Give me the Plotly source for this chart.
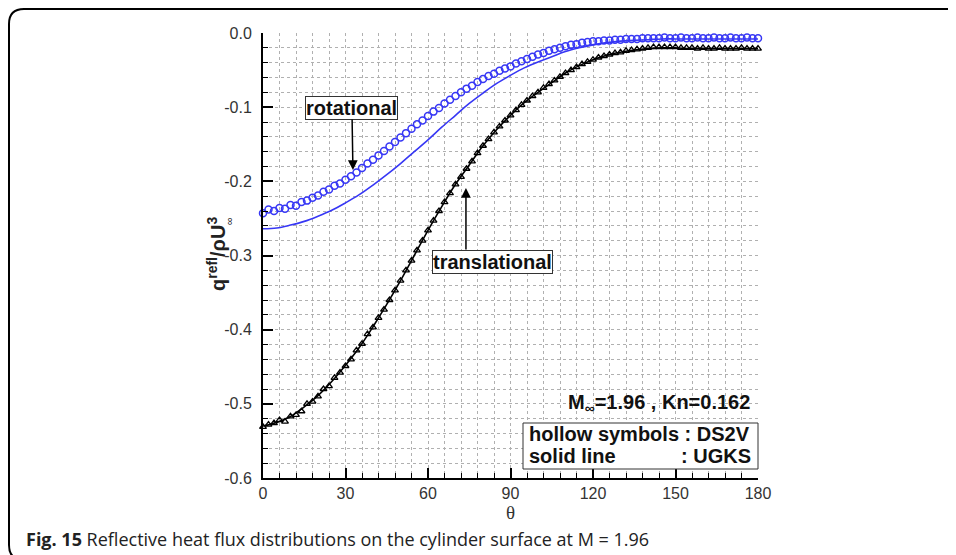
import plotly.graph_objects as go

# ---------------- data ----------------
theta_ds2v = list(range(0, 181, 2))
rot_ds2v = [-0.243, -0.238, -0.240, -0.236, -0.237, -0.232, -0.233, -0.228, -0.226, -0.222,
            -0.219, -0.214, -0.211, -0.206, -0.203, -0.198, -0.193, -0.188, -0.182, -0.176,
            -0.171, -0.165, -0.159, -0.153, -0.147, -0.141, -0.135, -0.129, -0.123, -0.118,
            -0.112, -0.106, -0.101, -0.095, -0.090, -0.085, -0.080, -0.075, -0.071, -0.066,
            -0.062, -0.058, -0.055, -0.051, -0.048, -0.045, -0.041, -0.038, -0.035, -0.032,
            -0.029, -0.027, -0.024, -0.022, -0.020, -0.018, -0.016, -0.015, -0.013, -0.012,
            -0.011, -0.011, -0.010, -0.010, -0.009, -0.009, -0.008, -0.008, -0.008, -0.007,
            -0.007, -0.007, -0.007, -0.006, -0.007, -0.007, -0.006, -0.007, -0.007, -0.006,
            -0.007, -0.007, -0.006, -0.007, -0.007, -0.006, -0.007, -0.007, -0.006, -0.007,
            -0.007]
trans_ds2v = [-0.531, -0.528, -0.526, -0.522, -0.524, -0.517, -0.515, -0.510, -0.500, -0.497,
              -0.490, -0.480, -0.476, -0.465, -0.458, -0.449, -0.440, -0.428, -0.419, -0.406,
              -0.397, -0.384, -0.373, -0.360, -0.347, -0.334, -0.320, -0.307, -0.293, -0.280,
              -0.266, -0.253, -0.240, -0.228, -0.216, -0.204, -0.194, -0.183, -0.173, -0.162,
              -0.152, -0.143, -0.134, -0.126, -0.118, -0.111, -0.104, -0.097, -0.091, -0.085,
              -0.080, -0.074, -0.069, -0.064, -0.059, -0.054, -0.050, -0.046, -0.042, -0.039,
              -0.036, -0.033, -0.031, -0.029, -0.027, -0.026, -0.024, -0.023, -0.022, -0.021,
              -0.020, -0.019, -0.019, -0.019, -0.019, -0.019, -0.020, -0.020, -0.020, -0.021,
              -0.020, -0.021, -0.021, -0.020, -0.021, -0.021, -0.021, -0.020, -0.021, -0.021,
              -0.021]

theta_ugks = list(range(0, 181, 5))
rot_ugks = [-0.264, -0.263, -0.259, -0.254, -0.247, -0.239, -0.229, -0.218, -0.205, -0.191,
            -0.176, -0.160, -0.144, -0.127, -0.111, -0.095, -0.081, -0.068, -0.057, -0.047,
            -0.039, -0.032, -0.025, -0.020, -0.016, -0.013, -0.011, -0.010, -0.009, -0.008,
            -0.008, -0.008, -0.008, -0.008, -0.008, -0.008, -0.008]
trans_ugks = [-0.530, -0.525, -0.517, -0.504, -0.489, -0.470, -0.448, -0.424, -0.396, -0.366,
              -0.334, -0.300, -0.266, -0.234, -0.204, -0.178, -0.152, -0.130, -0.111, -0.094,
              -0.080, -0.067, -0.054, -0.044, -0.036, -0.030, -0.026, -0.023, -0.021, -0.020,
              -0.020, -0.021, -0.021, -0.021, -0.021, -0.021, -0.021]

x_tickvals = [0, 30, 60, 90, 120, 150, 180]
x_ticktext = ["0", "30", "60", "90", "120", "150", "180"]
y_tickvals = [0.0, -0.1, -0.2, -0.3, -0.4, -0.5, -0.6]
y_ticktext = ["0.0", "-0.1", "-0.2", "-0.3", "-0.4", "-0.5", "-0.6"]

# ---------------- layout helpers ----------------
# page body has an 8px margin: target window coords -> figure coords = window - 8
OFF = 8
W, H = 956 - OFF, 555 - OFF
WL, WR, WT, WB = 263, 758, 33, 478          # plot area in window pixels
L, R, T, B = WL - OFF, WR - OFF, WT - OFF, WB - OFF


def px(wx):
    return (wx - OFF - L) / (R - L)


def py(wy):
    return (B - (wy - OFF)) / (B - T)


BLUE = "rgb(55,55,245)"
ARIAL = "Liberation Sans, Arial, sans-serif"
TXT = dict(family=ARIAL, size=20, color="#111")

fig = go.Figure()
fig.add_trace(go.Scatter(x=theta_ugks, y=rot_ugks, mode="lines",
                         line=dict(color=BLUE, width=1.6, shape="spline"),
                         showlegend=False, cliponaxis=False))
fig.add_trace(go.Scatter(x=theta_ugks, y=trans_ugks, mode="lines",
                         line=dict(color="black", width=1.6, shape="spline"),
                         showlegend=False, cliponaxis=False))
fig.add_trace(go.Scatter(x=theta_ds2v, y=rot_ds2v, mode="markers",
                         marker=dict(symbol="circle-open", size=7, color=BLUE,
                                     line=dict(width=1.5, color=BLUE)),
                         showlegend=False, cliponaxis=False))
fig.add_trace(go.Scatter(x=theta_ds2v, y=trans_ds2v, mode="markers",
                         marker=dict(symbol="triangle-up-open", size=6, color="black",
                                     line=dict(width=1.3, color="black")),
                         showlegend=False, cliponaxis=False))

grid = dict(showgrid=True, gridcolor="#b0b0b0", gridwidth=1, griddash="dot")

fig.update_xaxes(range=[0, 180], tickvals=x_tickvals, ticktext=x_ticktext,
                 ticks="inside", ticklen=10, tickwidth=2, tickcolor="black",
                 showline=True, linecolor="black", linewidth=2, zeroline=False,
                 tickfont=dict(family=ARIAL, size=16, color="#333"),
                 minor=dict(dtick=6, ticks="inside", ticklen=5, tickwidth=1,
                            tickcolor="black", **grid),
                 title=dict(text="θ", font=dict(family="Liberation Serif, serif", size=19,
                                                color="#333"), standoff=2),
                 **grid)
fig.update_yaxes(range=[-0.6, 0.0], tickvals=y_tickvals, ticktext=y_ticktext,
                 ticks="inside", ticklen=10, tickwidth=2, tickcolor="black",
                 showline=True, linecolor="black", linewidth=2, zeroline=False,
                 ticklabelstandoff=6,
                 tickfont=dict(family=ARIAL, size=16, color="#333"),
                 minor=dict(dtick=0.02, ticks="inside", ticklen=5, tickwidth=1,
                            tickcolor="black", **grid),
                 **grid)


def note(wx, wy, text, font, xanchor="center", **kw):
    return dict(x=px(wx), y=py(wy), xref="paper", yref="paper", xanchor=xanchor,
                yanchor="middle", text=text, showarrow=False, font=font, **kw)


annotations = [
    # y-axis title
    note(216, 254, "<b>q<sup>refl</sup>/ρU<sup>3</sup></b>",
         dict(family=ARIAL, size=20, color="#222"), textangle=-90),
    note(229, 221, "∞", dict(family=ARIAL, size=11, color="#222"), textangle=-90),
    # rotational label with arrow
    dict(x=32.7, y=-0.1847, xref="x", yref="y", ax=-1, ay=-62,
         text="<b>rotational</b>", showarrow=True, arrowhead=2, arrowsize=1.3,
         arrowwidth=1.5, arrowcolor="black", bordercolor="#333", borderwidth=1,
         borderpad=0, bgcolor="white", font=TXT),
    # translational arrow (separate from its box)
    dict(x=73.8, y=-0.209, xref="x", yref="y", ax=0, ay=63, text="",
         showarrow=True, arrowhead=2, arrowsize=1.3, arrowwidth=1.5, arrowcolor="black"),
    note(492, 262, "<b>translational</b>", TXT, bordercolor="#333", borderwidth=1,
         borderpad=0, bgcolor="white"),
    # Mach / Kn text
    note(752, 403, "<b>M<sub>∞</sub>=1.96 , Kn=0.162</b>", TXT, xanchor="right"),
    # legend box texts
    note(527, 434, "<b>hollow symbols : DS2V</b>", TXT, xanchor="left"),
    note(527, 456, "<b>solid line</b>", TXT, xanchor="left"),
    note(753, 456, "<b>: UGKS</b>", TXT, xanchor="right"),
    # caption
    note(24, 539, "<b>Fig. 15</b> Reflective heat flux distributions on the cylinder surface at M = 1.96",
         dict(family="Liberation Sans Narrow, Open Sans, sans-serif", size=18, color="#222"),
         xanchor="left"),
]

shapes = [
    dict(type="rect", xref="paper", yref="paper", x0=px(523), x1=px(758),
         y0=py(469), y1=py(423), line=dict(color="#333", width=1), fillcolor="white",
         layer="above"),
    dict(type="path", xref="paper", yref="paper",
         path=(f"M {px(960)},{py(9)} L {px(24)},{py(9)} Q {px(9)},{py(9)} {px(9)},{py(24)} "
               f"L {px(9)},{py(545)} Q {px(9)},{py(560)} {px(24)},{py(560)}"),
         line=dict(color="black", width=2)),
]

fig.update_layout(width=W, height=H, margin=dict(l=L, r=W - R, t=T, b=H - B),
                  paper_bgcolor="white", plot_bgcolor="white",
                  annotations=annotations, shapes=shapes)

fig.write_html("out.html",
               post_script="document.documentElement.style.overflow='hidden';"
                           "document.body.style.overflow='hidden';")
